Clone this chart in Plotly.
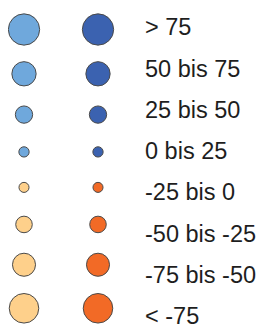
import plotly.graph_objects as go

# Class labels (top to bottom)
labels = ["> 75", "50 bis 75", "25 bis 50", "0 bis 25",
          "-25 bis 0", "-50 bis -25", "-75 bis -50", "< -75"]
# Class mid values
mids = [87.5, 62.5, 37.5, 12.5, -12.5, -37.5, -62.5, -87.5]
# Two symbol series (columns)
columns = ["hell", "dunkel"]

pos_colors = {"hell": "#6fa8dc", "dunkel": "#3b62b0"}
neg_colors = {"hell": "#fed08b", "dunkel": "#f26a26"}


def diam(v):
    k = 0.28 if v > 0 else 0.26
    return 6.8 + k * abs(v)


H = 328
off = 8  # page body margin
plot_w = 134

# stack symbols top to bottom with a constant gap plus half symbol sizes
sizes = [diam(v) + 1 for v in mids]
ys = [29.5]
for i in range(1, len(sizes)):
    ys.append(ys[-1] + 29.9 + 0.25 * (sizes[i - 1] + sizes[i]))

fig = go.Figure()
for ci, col in enumerate(columns):
    fig.add_trace(go.Scatter(
        x=[ci] * len(labels),
        y=ys,
        mode="markers",
        marker=dict(
            size=[diam(v) for v in mids],
            color=[pos_colors[col] if v > 0 else neg_colors[col] for v in mids],
            line=dict(color="#4a4a4a", width=1),
            opacity=1,
        ),
        hoverinfo="skip",
        showlegend=False,
    ))

# invisible carrier trace for the label axis
fig.add_trace(go.Scatter(
    x=[0] * len(labels), y=list(range(len(labels))), yaxis="y2",
    mode="markers", marker=dict(opacity=0, size=1),
    hoverinfo="skip", showlegend=False,
))

# label rows
t0, tstep = 27 - off, 41.29

x0 = -(24 - off) / 74
x1 = x0 + plot_w / 74

fig.update_layout(
    width=269, height=H,
    margin=dict(l=0, r=269 - plot_w, t=0, b=0),
    paper_bgcolor="white", plot_bgcolor="white",
    xaxis=dict(range=[x0, x1], visible=False, fixedrange=True),
    yaxis=dict(range=[H + off, off], visible=False),
    yaxis2=dict(
        overlaying="y",
        range=[(H - t0) / tstep, -t0 / tstep],
        side="right",
        tickmode="array",
        tickvals=list(range(len(labels))),
        ticktext=labels,
        showgrid=False, zeroline=False, showline=False,
        ticks="",
        ticklabelstandoff=2,
        automargin=False,
        tickfont=dict(family="Liberation Sans, Arial, sans-serif", size=23.5, color="#1e1e1e"),
    ),
)

fig.write_html("out.html")
